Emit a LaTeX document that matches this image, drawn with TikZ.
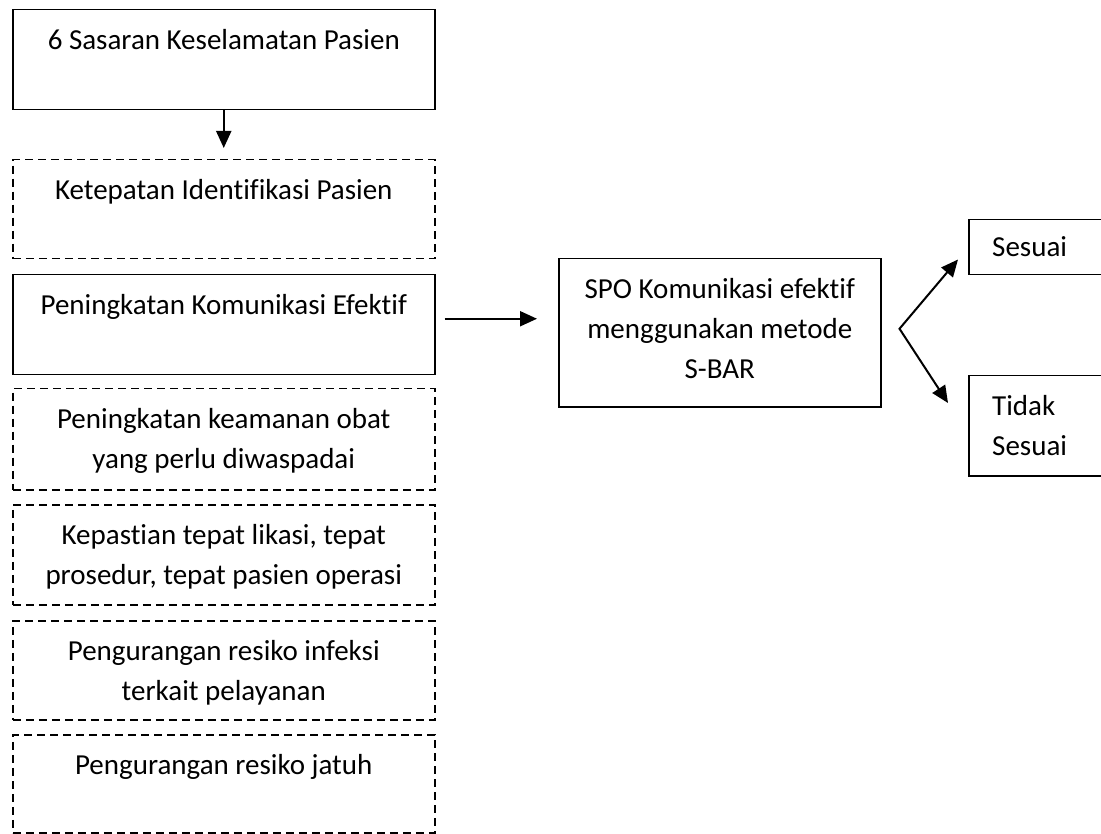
\documentclass[tikz,border=0pt]{standalone}
\usepackage{fontspec}
\setmainfont{Carlito}[Ligatures=NoCommon]
\usetikzlibrary{arrows.meta,calc}
\begin{document}
\begin{tikzpicture}[x=1pt,y=-1pt,
  box/.style={draw,line width=1.5pt,minimum width=422pt,minimum height=100pt,inner sep=0pt,anchor=north west},
  dbox/.style={box,dash pattern=on 8pt off 5pt},
  txt/.style={font=\fontsize{29}{40}\selectfont,align=center,inner sep=0pt,anchor=north},
  arr/.style={line width=2pt,-{Triangle[length=17pt,width=15pt]}}]
\useasboundingbox (0,0) rectangle (1101,834);
% left column
\node[box] (b1) at (12,9) {};
\node[dbox,minimum height=99pt] (b2) at (12,159) {};
\node[box] (b3) at (12,274) {};
\node[dbox,minimum height=101pt] (b4) at (12,388) {};
\node[dbox] (b5) at (12,504) {};
\node[dbox,minimum height=99pt] (b6) at (12,620) {};
\node[dbox,minimum height=98pt] (b7) at (12,734) {};
\node[txt] (t1) at ([yshift=-12pt]b1.north) {\strut 6 Sasaran Keselamatan Pasien};
\node[txt] (t2) at ([yshift=-12pt]b2.north) {\strut Ketepatan Identifikasi Pasien};
\node[txt] (t3) at ([yshift=-12pt]b3.north) {\strut Peningkatan Komunikasi Efektif};
\node[txt] (t4) at ([yshift=-12pt]b4.north) {\strut Peningkatan keamanan obat\\yang perlu diwaspadai};
\node[txt] (t5) at ([yshift=-12pt]b5.north) {\strut Kepastian tepat likasi, tepat\\prosedur, tepat pasien operasi};
\node[txt] (t6) at ([yshift=-12pt]b6.north) {\strut Pengurangan resiko infeksi\\terkait pelayanan};
\node[txt] (t7) at ([yshift=-12pt]b7.north) {\strut Pengurangan resiko jatuh};
% SPO box
\node[box,minimum width=322pt,minimum height=148pt] (spo) at (558,258) {};
\node[txt] (tspo) at ([yshift=-12pt]spo.north) {\strut SPO Komunikasi efektif\\menggunakan metode\\S-BAR};
% outcome boxes
\node[box,minimum width=200pt,minimum height=55pt] (ok) at (968,219) {};
\node[box,minimum width=200pt,minimum height=100pt] (notok) at (968,375) {};
\node[font=\fontsize{29}{40}\selectfont,inner sep=0pt,anchor=base west] (tok) at ([xshift=24pt,yshift=19pt]ok.south west) {Sesuai};
\node[txt,align=left,anchor=north west] (tnotok) at ([xshift=24pt,yshift=-12pt]notok.north west) {\strut Tidak\\Sesuai};
% connectors
\draw[arr] (b1.south) -- ([yshift=11pt]b2.north);
\draw[arr] ([xshift=9pt,yshift=6pt]b3.east) -- ([xshift=-21pt,yshift=6pt]b3.east -| spo.west);
\coordinate (split) at ([xshift=18pt,yshift=4pt]spo.east);
\draw[line width=2pt,line join=miter,{Triangle[length=17pt,width=15pt]}-{Triangle[length=17pt,width=15pt]}]
  ([xshift=-10pt,yshift=16pt]ok.south west) -- (split) -- ([xshift=-20pt,yshift=-28pt]notok.north west);
\end{tikzpicture}
\end{document}
